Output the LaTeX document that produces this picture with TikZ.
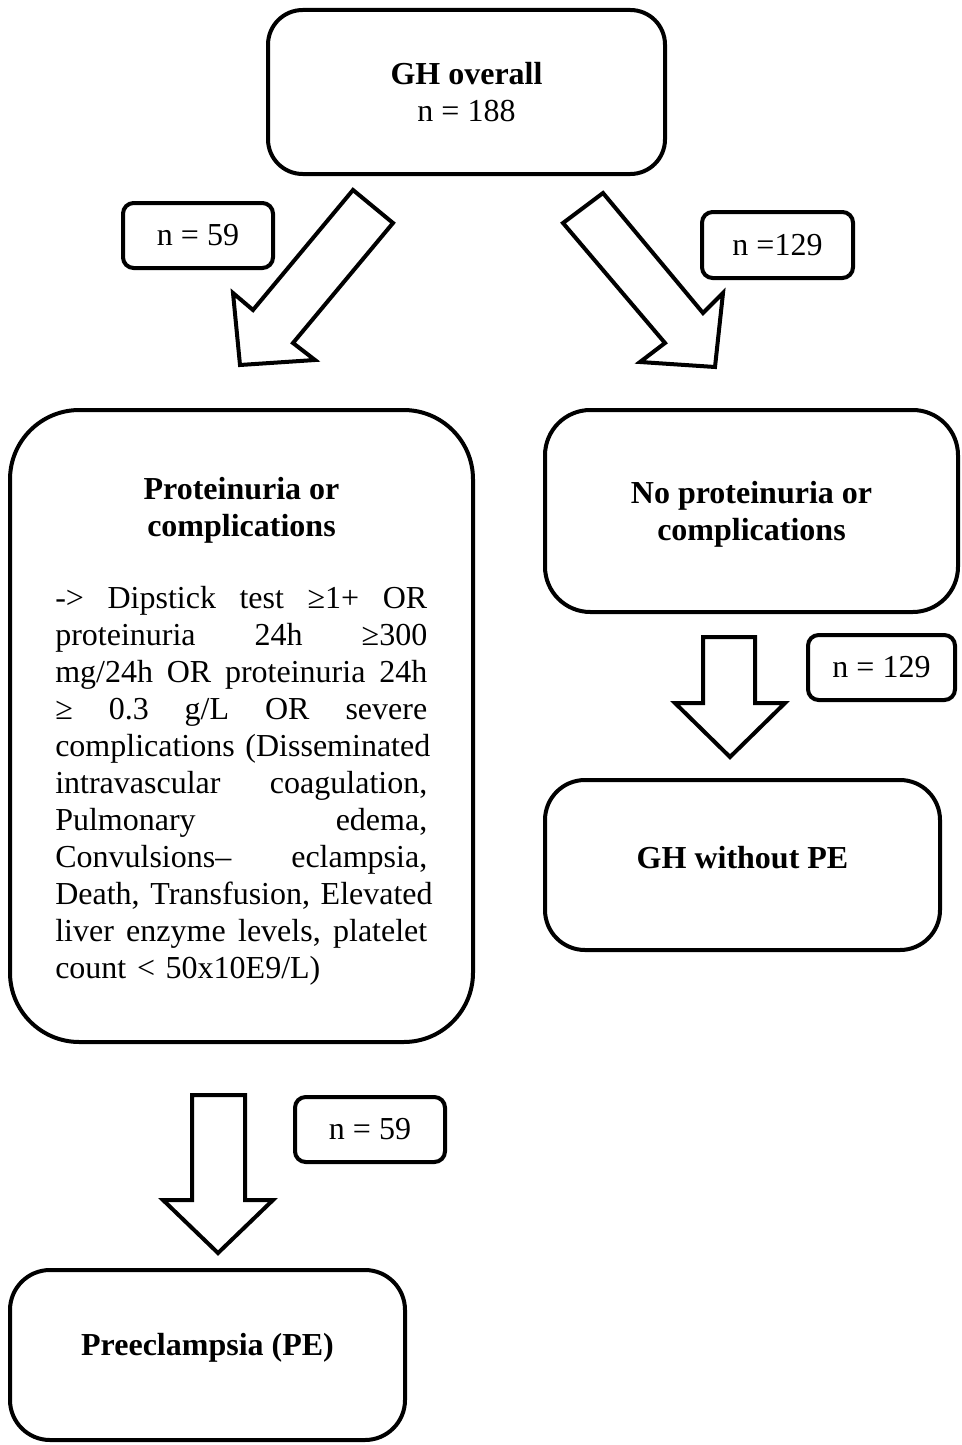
\documentclass[tikz,border=0pt]{standalone}
\usepackage{fontspec}
\setmainfont{Liberation Serif}
\newcommand{\jl}[1]{\leavevmode\hbox to 279pt{#1}}
\newcommand{\gapj}{\hfill\ }
\begin{document}
\begin{tikzpicture}[x=0.75pt,y=-0.75pt,
  box/.style={draw,line width=3pt,rounded corners=#1,inner sep=0pt,align=center,font=\fontsize{24}{27.75}\selectfont},
  box/.default=26pt,
  lab/.style={draw,line width=3pt,rounded corners=8pt,inner sep=0pt,font=\fontsize{24}{27.75}\selectfont},
  blk/.style={draw,line width=3pt,line join=miter,fill=white},
  txt/.style={inner sep=0pt,align=center,font=\fontsize{24}{27.75}\selectfont\bfseries}]
\useasboundingbox (0,0) rectangle (961,1445);
% boxes
\node[box, minimum width=297.75pt, minimum height=123pt] (gh) at (466.5,92) {\textbf{GH overall}\\n = 188};
\node[lab, minimum width=112.5pt, minimum height=48.75pt] (l59) at (198,235.5) {n = 59};
\node[lab, minimum width=113.25pt, minimum height=49.5pt] (l129) at (777.5,245) {n =129};
\node[box=52pt, minimum width=347.25pt, minimum height=474pt] (prot) at (241.5,726) {};
\node[txt] (proth) at (241.5,510) {Proteinuria or\\complications};
\node[inner sep=0pt, anchor=north west, text width=279pt, font=\fontsize{24}{27.75}\selectfont] (protb) at (55,586) {%
\jl{->\gapj Dipstick\gapj test\gapj ≥1+\gapj OR}\\
\jl{proteinuria\gapj 24h\gapj ≥300}\\
\jl{mg/24h\gapj OR\gapj proteinuria\gapj 24h}\\
\jl{≥\gapj 0.3\gapj g/L\gapj OR\gapj severe}\\
\jl{complications\gapj (Disseminated}\\
\jl{intravascular\gapj coagulation,}\\
\jl{Pulmonary\gapj edema,}\\
\jl{Convulsions–\gapj eclampsia,}\\
\jl{Death,\gapj Transfusion,\gapj Elevated}\\
\jl{liver\gapj enzyme\gapj levels,\gapj platelet}\\
count < 50x10E9/L)};
\node[box=34pt, minimum width=309.75pt, minimum height=151.5pt] (nop) at (751.5,511) {};
\node[txt] (noph) at (751.5,514) {No proteinuria or\\complications};
\node[lab, minimum width=110.25pt, minimum height=48.75pt] (r129) at (881.5,667.5) {n = 129};
\node[box=30pt, minimum width=296.25pt, minimum height=127.5pt] (ghw) at (742.5,865) {};
\node[txt] (ghwt) at (742.5,858) {GH without PE};
\node[lab, minimum width=112.5pt, minimum height=48.75pt] (b59) at (370,1129.5) {n = 59};
\node[box=30pt, minimum width=296.25pt, minimum height=127.5pt] (pe) at (207.5,1355) {};
\node[txt] (pet) at (207.5,1348) {Preeclampsia (PE)};
% block arrows
\draw[blk] (353,190) -- (393,223) -- (293,343) -- (315,360) -- (240,365) -- (233,293) -- (253,310) -- cycle;
\draw[blk] (603,193) -- (563,223) -- (665,343) -- (640,362) -- (715,367) -- (723,293) -- (703,313) -- cycle;
\draw[blk] (703,637) -- (755,637) -- (755,703) -- (785,703) -- (730,757) -- (675,703) -- (703,703) -- cycle;
\draw[blk] (192,1095) -- (245,1095) -- (245,1200) -- (273,1200) -- (218,1253) -- (163,1200) -- (192,1200) -- cycle;
\end{tikzpicture}
\end{document}
